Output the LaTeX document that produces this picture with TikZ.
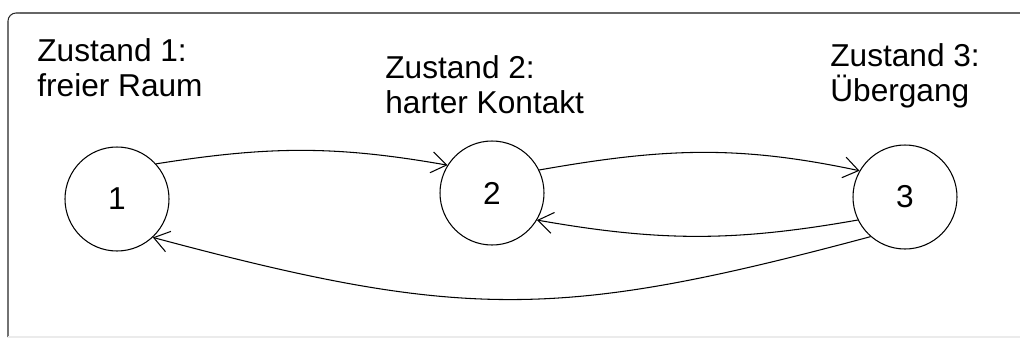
\documentclass[tikz,border=0pt]{standalone}
\usepackage{fontspec}
\setmainfont{Liberation Sans}
\usetikzlibrary{positioning,arrows.meta}

\begin{document}
\begin{tikzpicture}[
    zstate/.style ={circle, draw=black, line width=0.6pt, minimum size=2.08cm,
                    inner sep=0pt, font=\fontsize{18pt}{20pt}\selectfont},
    zlabel/.style ={anchor=north west, inner sep=0pt, align=left,
                    font=\fontsize{18pt}{19.8pt}\selectfont},
    trans/.style  ={draw=black, line width=0.6pt,
                    -{Straight Barb[length=3mm, width=4.2mm, line width=0.6pt]}}
  ]
    \useasboundingbox (0,0) rectangle (20.4,6.8);
    % --- frame (only left and top edge visible) ---
    \draw[black!85, line width=0.6pt, rounded corners=0.16cm]
      (0.16,0.06) -- (0.16,6.54) -- (1.0,6.54);
    \draw[black!60, line width=1.2pt] (0.4,6.54) -- (20.4,6.54);
    \draw[black!8, line width=0.6pt] (0.16,0.06) -- (20.4,0.06);

    % --- states ---
    \node[zstate] (z1) at (2.34, 2.82) {1};
    \node[zstate] (z2) at (9.84, 2.94) {2};
    \node[zstate] (z3) at (18.10, 2.86) {3};

    % --- labels ---
    \node[zlabel] (l1) at (0.74, 6.04) {Zustand 1:\\freier Raum};
    \node[zlabel] (l2) at (7.70, 5.70) {Zustand 2:\\harter Kontakt};
    \node[zlabel] (l3) at (16.60, 5.94) {Zustand 3:\\Übergang};

    % --- transitions ---
    \draw[trans] (z1.42)  to[out=9,   in=170] (z2.148);
    \draw[trans] (z2.26)  to[out=10,  in=168] (z3.150);
    \draw[trans] (z3.206) to[out=190, in=-10] (z2.-31);
    \draw[trans] (z3.229) to[out=195, in=-15, looseness=1.15] (z1.-47);
  \end{tikzpicture}
\end{document}
